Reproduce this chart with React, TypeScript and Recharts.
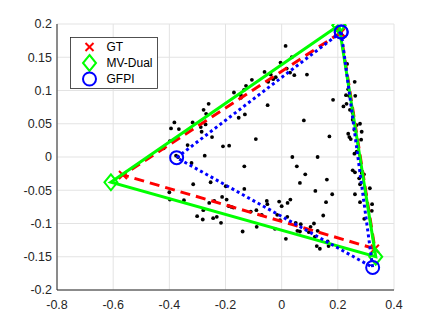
import React from "react";
import {
  ScatterChart,
  Scatter,
  XAxis,
  YAxis,
  CartesianGrid,
  Legend,
} from "recharts";

// sample points (black dots)
const dotX = [
  -0.17, -0.26, -0.278, -0.269, -0.382, -0.394, -0.366, -0.317, -0.288, -0.271,
  -0.285, -0.248, -0.398, -0.42, -0.335, -0.209, -0.187, -0.153, -0.131,
  0.014, 0.036, -0.004, -0.061, -0.039, 0.018, 0.03, 0.045, 0.09, -0.021,
  -0.03, -0.048, -0.106, -0.127, -0.134, -0.145, -0.145, -0.05, 0.079, -0.092,
  0.17, 0.183,
  0.233, 0.26, 0.237, 0.229, 0.262, 0.24, 0.22, 0.231, 0.243, 0.253, 0.254,
  0.253, 0.279, 0.267, 0.259, 0.285, 0.237, 0.241, 0.246, 0.283, 0.259, 0.267,
  0.253, 0.261, 0.285, 0.293, 0.276, 0.279, 0.314, 0.261, 0.299, 0.279, 0.322,
  0.321, 0.294,
  -0.376, -0.369, -0.274, -0.321, -0.315, -0.253, -0.199, -0.4, -0.398, -0.348,
  -0.212, -0.196, -0.24, -0.258, -0.188, -0.179, -0.172, -0.279, -0.301, -0.281,
  -0.244, -0.231, -0.216,
  0.038, 0.128, -0.133, 0.054, 0.084, 0.065, 0.161, -0.133, 0.12, 0.18, 0.031,
  0.021, -0.009, -0.053, -0.051, 0.0, 0.158, -0.09, -0.11, -0.071, -0.016,
  -0.006, 0.02, 0.068, 0.05, 0.148, 0.115, 0.103, -0.089, -0.024, 0.056, 0.065,
  -0.139, 0.128, 0.097, 0.118, 0.015, 0.164, 0.125, 0.136, 0.167,
];
const dotY = [
  0.097, 0.08, 0.071, 0.065, 0.052, 0.043, 0.042, 0.052, 0.045, 0.049,
  0.038, 0.03, 0.024, 0.013, 0.018, 0.016, 0.017, 0.059, 0.064,
  0.167, 0.15, 0.142, 0.128, 0.124, 0.133, 0.127, 0.123, 0.124, 0.12,
  0.117, 0.113, 0.116, 0.107, 0.101, 0.093, 0.089, 0.078, 0.055, 0.027,
  0.031, 0.086,
  0.14, 0.113, 0.102, 0.093, 0.092, 0.092, 0.076, 0.08, 0.071, 0.066, 0.06,
  0.056, 0.05, 0.048, 0.041, 0.038, 0.035, 0.03, 0.027, 0.026, 0.005, 0.008,
  -0.02, -0.023, -0.024, -0.026, -0.032, -0.041, -0.047, -0.056, -0.056, -0.068,
  -0.071, -0.081, -0.093,
  0.002, 0.0, 0.002, -0.009, -0.041, -0.038, -0.044, -0.053, -0.064, -0.065,
  -0.06, -0.064, -0.066, -0.069, -0.074, -0.075, -0.076, -0.08, -0.089, -0.094,
  -0.092, -0.09, -0.099,
  0.0, 0.0, -0.014, -0.014, -0.026, -0.039, -0.034, -0.048, -0.051, -0.056,
  -0.064, -0.069, -0.067, -0.066, -0.071, -0.074, -0.068, -0.08, -0.082, -0.087,
  -0.087, -0.095, -0.09, -0.101, -0.099, -0.088, -0.1, -0.105, -0.105, -0.108,
  -0.111, -0.112, -0.112, -0.111, -0.113, -0.12, -0.123, -0.127, -0.134, -0.138,
  -0.134,
];

// triangle vertices
const gtX = [0.21, -0.565, 0.332];
const gtY = [0.187, -0.027, -0.138];
const mvX = [0.204, -0.608, 0.335];
const mvY = [0.198, -0.038, -0.15];
const gfX = [0.212, -0.374, 0.324];
const gfY = [0.188, -0.001, -0.166];

const xTicks = [-0.8, -0.6, -0.4, -0.2, 0, 0.2, 0.4];
const yTicks = [-0.2, -0.15, -0.1, -0.05, 0, 0.05, 0.1, 0.15, 0.2];

const dots = dotX.map((x, i) => ({ x, y: dotY[i] }));
const loop = (xs: number[], ys: number[]) => {
  const pts = xs.map((x, i) => ({ x, y: ys[i] }));
  return [...pts, pts[0]];
};

const FONT = "'Liberation Sans', Arial, Helvetica, sans-serif";
const AXIS = "#262626";

const Dot = (p: any) => <circle cx={p.cx} cy={p.cy} r={1.9} fill="#000" />;

const XMark = ({ cx, cy }: any) => (
  <g stroke="#ff0000" strokeWidth={2}>
    <line x1={cx - 4} y1={cy - 4} x2={cx + 4} y2={cy + 4} />
    <line x1={cx - 4} y1={cy + 4} x2={cx + 4} y2={cy - 4} />
  </g>
);
const Diamond = ({ cx, cy }: any) => (
  <polygon
    points={`${cx},${cy - 8} ${cx + 6.5},${cy} ${cx},${cy + 8} ${cx - 6.5},${cy}`}
    fill="none"
    stroke="#00ff00"
    strokeWidth={2}
  />
);
const Ring = ({ cx, cy }: any) => (
  <circle cx={cx} cy={cy} r={6.5} fill="none" stroke="#0000ff" strokeWidth={2} />
);

const legendItems = [
  { name: "GT", Shape: XMark },
  { name: "MV-Dual", Shape: Diamond },
  { name: "GFPI", Shape: Ring },
];

const LegendBox = () => (
  <svg width={88} height={52}>
    <rect x={0.5} y={0.5} width={87} height={51} fill="#fff" stroke={AXIS} strokeWidth={0.8} />
    {legendItems.map((it, i) => {
      const cy = 10 + i * 16;
      return (
        <g key={it.name}>
          <it.Shape cx={19.5} cy={cy} />
          <text x={36.5} y={cy} dy="0.36em" fontSize={12} fontFamily={FONT} fill="#000">
            {it.name}
          </text>
        </g>
      );
    })}
  </svg>
);

export default function App() {
  return (
    <div style={{ position: "absolute", left: 0, top: 0, background: "#fff" }}>
      <ScatterChart
        width={436}
        height={327}
        margin={{ top: 24, right: 42, bottom: 0, left: 0 }}
        style={{ fontFamily: FONT }}
      >
        <CartesianGrid stroke="#e3e3e3" strokeWidth={1} />
        <XAxis
          type="number"
          dataKey="x"
          domain={[-0.8, 0.4]}
          ticks={xTicks}
          height={37}
          tickLine={false}
          tickSize={0}
          tickMargin={10}
          axisLine={{ stroke: AXIS, strokeWidth: 1 }}
          tick={{ fill: AXIS, fontSize: 12.5, fontFamily: FONT }}
          tickFormatter={(v: number) => String(v)}
          allowDataOverflow
        />
        <YAxis
          type="number"
          dataKey="y"
          domain={[-0.2, 0.2]}
          ticks={yTicks}
          width={57}
          tickLine={false}
          tickSize={0}
          tickMargin={5}
          axisLine={{ stroke: AXIS, strokeWidth: 1 }}
          tick={{ fill: AXIS, fontSize: 12.5, fontFamily: FONT }}
          tickFormatter={(v: number) => String(v)}
          allowDataOverflow
        />
        <Scatter data={dots} shape={Dot} isAnimationActive={false} />
        <Scatter
          data={loop(gtX, gtY)}
          fill="#ff0000"
          line={{ stroke: "#ff0000", strokeWidth: 3, strokeDasharray: "10 6" }}
          shape={XMark}
          isAnimationActive={false}
        />
        <Scatter
          data={loop(mvX, mvY)}
          fill="#00ff00"
          line={{ stroke: "#00ff00", strokeWidth: 3 }}
          shape={Diamond}
          isAnimationActive={false}
        />
        <Scatter
          data={loop(gfX, gfY)}
          fill="#0000ff"
          line={{ stroke: "#0000ff", strokeWidth: 3, strokeDasharray: "3 3" }}
          shape={Ring}
          isAnimationActive={false}
        />
        <Legend
          layout="horizontal"
          verticalAlign="middle"
          align="center"
          content={() => <LegendBox />}
          wrapperStyle={{ left: 70, top: 37, width: 88, height: 52 }}
        />
      </ScatterChart>
    </div>
  );
}
